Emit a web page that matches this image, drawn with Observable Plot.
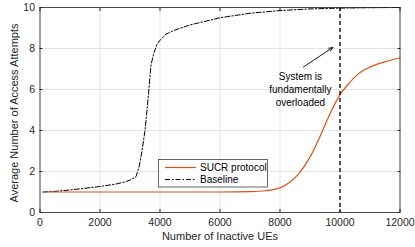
<!DOCTYPE html>
<html>
<head>
<meta charset="utf-8">
<script src="https://cdn.jsdelivr.net/npm/d3@7"></script>
<script src="https://cdn.jsdelivr.net/npm/@observablehq/plot@0.6"></script>
<style>
  html, body { margin: 0; padding: 0; background: #fff; }
  #chart { position: relative; width: 415px; height: 247px; }
</style>
</head>
<body>
<div id="chart"></div>
<script>
// Baseline (black dash-dot)
const baselineX = [100, 500, 1000, 1500, 2000, 2500, 2800, 3000, 3200, 3300, 3400, 3500, 3600, 3700, 3800, 3900, 4000, 4200, 4500, 5000, 6000, 7000, 8000, 9000, 10000, 11000, 12000];
const baselineY = [1.0, 1.03, 1.1, 1.18, 1.27, 1.38, 1.48, 1.58, 1.75, 2.2, 3.0, 4.0, 5.5, 7.2, 7.8, 8.2, 8.4, 8.7, 8.9, 9.15, 9.5, 9.72, 9.85, 9.93, 9.97, 9.99, 10.0];
// SUCR protocol (orange)
const sucrX = [100, 1000, 2000, 3000, 4000, 5000, 6000, 7000, 7500, 8000, 8300, 8600, 9000, 9300, 9600, 10000, 10300, 10600, 11000, 11500, 12000];
const sucrY = [1.0, 1.0, 1.0, 1.0, 1.0, 1.0, 1.0, 1.02, 1.06, 1.2, 1.45, 1.85, 2.7, 3.6, 4.6, 5.75, 6.3, 6.75, 7.1, 7.35, 7.55];

const xTicks = [0, 2000, 4000, 6000, 8000, 10000, 12000];
const yTicks = [0, 2, 4, 6, 8, 10];
const overloadX = [10000];
const annotationText = ["System is\nfundamentally\noverloaded"];
const annotationPos = [{x: 8680, y: 6.05}];
const arrowData = [{x1: 8780, y1: 7.1, x2: 9760, y2: 8.05}];
const seriesNames = ["SUCR protocol", "Baseline"];

const baseline = baselineX.map((x, i) => ({x, y: baselineY[i]}));
const sucr = sucrX.map((x, i) => ({x, y: sucrY[i]}));

const axisColor = "#262626";
const orange = "#D95319";
const font = "Liberation Sans, Arial, Helvetica, sans-serif";

const plot = Plot.plot({
  width: 415,
  height: 247,
  marginLeft: 39.5,
  marginRight: 15.5,
  marginTop: 7,
  marginBottom: 35,
  style: {fontFamily: font, fontSize: "10.5px", color: axisColor, background: "#fff"},
  x: {domain: [0, 12000]},
  y: {domain: [0, 10]},
  marks: [
    Plot.gridX(xTicks, {stroke: "#e3e3e3", strokeOpacity: 1}),
    Plot.gridY(yTicks, {stroke: "#e3e3e3", strokeOpacity: 1}),
    Plot.axisX(xTicks, {anchor: "bottom", tickSize: 0, tickPadding: 6, tickFormat: d => String(d), label: null, fill: axisColor, fontSize: 10.5}),
    Plot.axisX(xTicks, {anchor: "bottom", tickSize: -3, text: null, label: null, stroke: axisColor}),
    Plot.axisX(xTicks, {anchor: "top", tickSize: -3, text: null, label: null, stroke: axisColor}),
    Plot.axisY(yTicks, {anchor: "left", tickSize: 0, tickPadding: 5, label: null, fill: axisColor, fontSize: 10.5}),
    Plot.axisY(yTicks, {anchor: "left", tickSize: -3, text: null, label: null, stroke: axisColor}),
    Plot.axisY(yTicks, {anchor: "right", tickSize: -3, text: null, label: null, stroke: axisColor}),
    Plot.line(baseline, {x: "x", y: "y", stroke: "#000", strokeWidth: 1, strokeDasharray: "5,2,1.5,2", curve: "linear"}),
    Plot.line(sucr, {x: "x", y: "y", stroke: orange, strokeWidth: 1.2, curve: "monotone-x"}),
    Plot.ruleX(overloadX, {stroke: "#000", strokeWidth: 1.3, strokeDasharray: "4,3"}),
    Plot.text(annotationText, {x: annotationPos.map(d => d.x), y: annotationPos.map(d => d.y), fill: "#000", fontSize: 10, lineHeight: 1.3}),
    Plot.arrow(arrowData, {x1: "x1", y1: "y1", x2: "x2", y2: "y2", stroke: "#000", strokeWidth: 0.9, headLength: 7, headAngle: 45}),
    Plot.frame({stroke: axisColor, strokeWidth: 0.8}),
    Plot.text(["Average Number of Access Attempts"], {frameAnchor: "left", textAnchor: "middle", dx: -25.5, dy: 3, rotate: -90, fontSize: 11, fill: axisColor}),
    Plot.text(["Number of Inactive UEs"], {frameAnchor: "bottom", dy: 27, fontSize: 11, fill: axisColor})
  ]
});

document.getElementById("chart").appendChild(plot);

// Legend box drawn into the SVG
const svg = d3.select(plot);
const lg = svg.append("g").attr("font-family", font).attr("font-size", 10).attr("text-anchor", "start");
lg.append("rect").attr("x", 158.5).attr("y", 159.5).attr("width", 109).attr("height", 27.5)
  .attr("fill", "#fff").attr("stroke", axisColor).attr("stroke-width", 0.7);
const styles = [
  {stroke: orange, dash: null, w: 1.2},
  {stroke: "#000", dash: "5,2,1.5,2", w: 1}
];
seriesNames.forEach((name, i) => {
  const yy = 167.5 + i * 12;
  lg.append("line").attr("x1", 165).attr("x2", 196).attr("y1", yy).attr("y2", yy)
    .attr("stroke", styles[i].stroke).attr("stroke-width", styles[i].w)
    .attr("stroke-dasharray", styles[i].dash);
  lg.append("text").attr("x", 200).attr("y", yy).attr("dy", "0.35em").attr("fill", "#000")
    .attr("text-anchor", "start").text(name);
});
</script>
</body>
</html>
